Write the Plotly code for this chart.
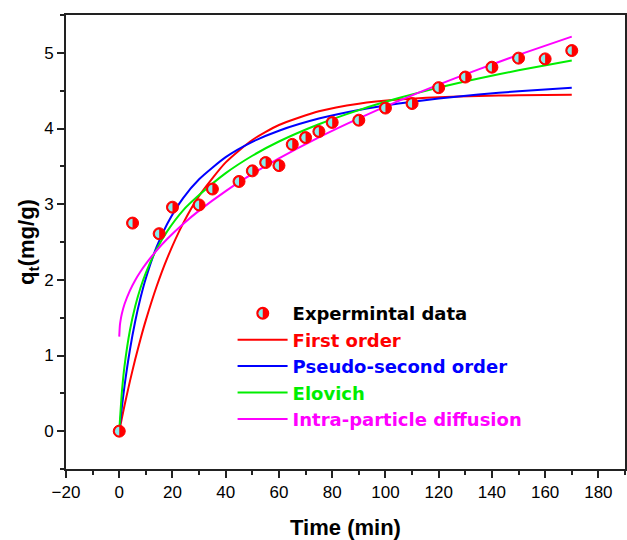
import plotly.graph_objects as go

# Experimental data
t_exp = [0, 5, 15, 20, 30, 35, 45, 50, 55, 60, 65, 70, 75, 80, 90, 100, 110, 120, 130, 140, 150, 160, 170]
q_exp = [0.0, 2.75, 2.61, 2.96, 2.99, 3.2, 3.3, 3.44, 3.55, 3.51, 3.79, 3.88, 3.96, 4.08, 4.11, 4.27, 4.33,
         4.54, 4.68, 4.81, 4.93, 4.92, 5.03]

# Model curves
t_fit = [0, 1, 2, 4, 6, 8, 10, 14, 18, 24, 30, 40, 50, 60, 75, 90, 105, 120, 135, 150, 170]
q_first = [0.0, 0.174, 0.342, 0.658, 0.950, 1.219, 1.467, 1.908, 2.284, 2.746, 3.110, 3.552, 3.848, 4.046,
           4.228, 4.328, 4.383, 4.413, 4.430, 4.439, 4.445]
q_pso = [0.0, 0.321, 0.602, 1.073, 1.452, 1.762, 2.022, 2.431, 2.739, 3.081, 3.330, 3.622, 3.824, 3.971,
         4.131, 4.245, 4.329, 4.396, 4.448, 4.492, 4.539]
q_elo = [0.0, 0.520, 0.865, 1.331, 1.651, 1.896, 2.093, 2.403, 2.641, 2.919, 3.120, 3.410, 3.640, 3.828,
         4.056, 4.243, 4.402, 4.540, 4.661, 4.769, 4.898]
t_ipd = [0, 0.25, 0.5, 1, 2, 4, 6, 8, 10, 14, 18, 24, 30, 40, 50, 60, 75, 90, 105, 120, 135, 150, 170]
q_ipd = [1.25, 1.402, 1.465, 1.554, 1.680, 1.858, 1.995, 2.110, 2.211, 2.387, 2.540, 2.739, 2.915, 3.173,
         3.400, 3.605, 3.883, 4.134, 4.365, 4.580, 4.782, 4.973, 5.214]

names = ["Expermintal data", "First order", "Pseudo-second order", "Elovich", "Intra-particle diffusion"]
colors = ["#000000", "#FF0000", "#0000FF", "#00EE00", "#FF00FF"]
CYAN = "#86EEF0"
RED = "#FF0000"
FONT = "Liberation Sans, Arial, sans-serif"
LFONT = "DejaVu Sans, Liberation Sans, sans-serif"


def lname(i):
    return "<span style='color:%s'><b>%s</b></span>" % (colors[i], names[i])


fig = go.Figure()
for tt, qq, i in [(t_fit, q_first, 1), (t_fit, q_pso, 2), (t_fit, q_elo, 3), (t_ipd, q_ipd, 4)]:
    fig.add_trace(go.Scatter(x=tt, y=qq, mode="lines", name=lname(i),
                             line=dict(color=colors[i], width=2, shape="spline", smoothing=0.6),
                             legendrank=i + 1))
fig.add_trace(go.Scatter(x=t_exp, y=q_exp, mode="markers", name=lname(0), showlegend=False,
                         marker=dict(symbol="circle", size=12, color=RED,
                                     line=dict(color=RED, width=1))))
# legend entry for the experimental data (its symbol is drawn by the shapes below)
fig.add_trace(go.Scatter(x=[None], y=[None], mode="markers", name=lname(0),
                         marker=dict(symbol="circle", size=12, color="rgba(0,0,0,0)",
                                     line=dict(color="rgba(0,0,0,0)", width=0)),
                         legendrank=1))

# cyan left halves of the experimental markers
r = 4.3
k = 0.5523 * r
half = "M 0,{r} C {nk},{r} {nr},{k} {nr},0 C {nr},{nkk} {nk},{nr} 0,{nr} Z".format(
    r=r, nk=-k, nr=-r, k=k, nkk=-k)
shapes = []
for xv, yv in zip(t_exp, q_exp):
    shapes.append(dict(type="path", xref="x", yref="y", xsizemode="pixel", ysizemode="pixel",
                       xanchor=xv, yanchor=yv, path=half, fillcolor=CYAN,
                       line=dict(width=0), layer="above"))
# legend symbol: red circle with cyan left half
LEG_X, LEG_Y = 0.298, 0.383
SYM_X, SYM_Y = 0.352, 0.343
R = 6.5
shapes.append(dict(type="circle", xref="paper", yref="paper", xsizemode="pixel", ysizemode="pixel",
                   xanchor=SYM_X, yanchor=SYM_Y, x0=-R, x1=R, y0=-R, y1=R,
                   fillcolor=RED, line=dict(width=0), layer="above"))
shapes.append(dict(type="path", xref="paper", yref="paper", xsizemode="pixel", ysizemode="pixel",
                   xanchor=SYM_X, yanchor=SYM_Y, path=half, fillcolor=CYAN,
                   line=dict(width=0), layer="above"))

fig.update_layout(
    width=627, height=540,
    margin=dict(l=66, r=2, t=15, b=71, autoexpand=False),
    plot_bgcolor="white", paper_bgcolor="white",
    font=dict(family=FONT, size=17, color="#000000"),
    showlegend=True,
    legend=dict(x=LEG_X, y=LEG_Y, xanchor="left", yanchor="top",
                bgcolor="rgba(0,0,0,0)", borderwidth=0,
                font=dict(family=LFONT, size=18), itemwidth=50,
                tracegroupgap=0),
    shapes=shapes,
)
fig.update_xaxes(range=[-20, 190], tickvals=list(range(-20, 181, 20)),
                 ticktext=["\u221220"] + [str(v) for v in range(0, 181, 20)],
                 automargin=False,
                 ticks="outside", ticklen=7, tickwidth=1.5, tickcolor="#222",
                 minor=dict(dtick=10, tick0=0, ticks="outside", ticklen=4, tickwidth=1.5, tickcolor="#222"),
                 showline=True, linewidth=2, linecolor="#222", mirror=True,
                 showgrid=False, zeroline=False,
                 tickfont=dict(size=17),
                 title=dict(text="<b>Time (min)</b>", font=dict(size=22), standoff=20))
fig.update_yaxes(range=[-0.5, 5.5], tickvals=[0, 1, 2, 3, 4, 5],
                 automargin=False,
                 ticks="outside", ticklen=7, tickwidth=1.5, tickcolor="#222",
                 minor=dict(dtick=0.5, tick0=0, ticks="outside", ticklen=4, tickwidth=1.5, tickcolor="#222"),
                 showline=True, linewidth=2, linecolor="#222", mirror=True,
                 showgrid=False, zeroline=False,
                 tickfont=dict(size=17),
                 title=dict(text="<b>q<sub>t</sub>(mg/g)</b>", font=dict(size=22), standoff=3))

fig.write_html("out.html")
